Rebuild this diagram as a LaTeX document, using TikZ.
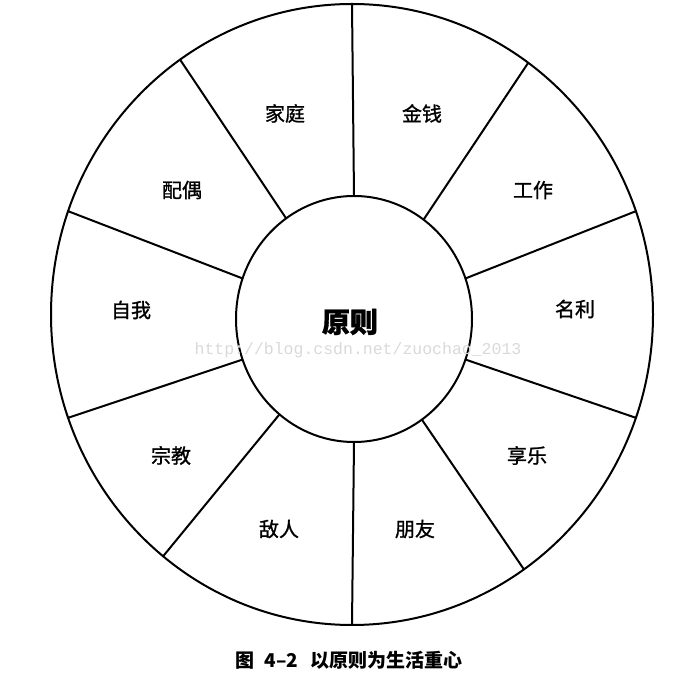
\documentclass[tikz,border=0pt]{standalone}
\usepackage{fontspec}
\setmainfont{Noto Sans CJK SC}
\newfontfamily\labelfont[FakeBold=1.2]{Noto Sans CJK SC}
\newfontfamily\markfont{Liberation Mono}
\usetikzlibrary{shapes.geometric}

\begin{document}
\begin{tikzpicture}[
x=1pt, y=1pt,
every node/.style={
font=\labelfont\fontsize{20}{24}\selectfont
},
ring/.style={
draw,
ellipse,
line width=2pt,
inner sep=0pt,
outer sep=0pt
},
spoke/.style={line width=2pt}
]
\useasboundingbox (0,0) rectangle (699,683);

\node[ring, minimum width=602pt, minimum height=621pt] (rim) at (352,368.5) {};
\node[ring, minimum width=236pt, minimum height=246pt] (hub) at (354,364) {};

\draw[spoke] (hub.90) -- (rim.90);
\draw[spoke] (hub.55) -- (rim.55);
\draw[spoke] (hub.20) -- (rim.20);
\draw[spoke] (hub.-20) -- (rim.-20);
\draw[spoke] (hub.-56) -- (rim.-56);
\draw[spoke] (hub.-90) -- (rim.-90);
\draw[spoke] (hub.-128) -- (rim.-128);
\draw[spoke] (hub.-160) -- (rim.-160);
\draw[spoke] (hub.160) -- (rim.160);
\draw[spoke] (hub.124) -- (rim.124);

\node (core) at (350,361) {\fontsize{28}{32}\selectfont\bfseries 原则};

\node (family) at (285,569.5) {家庭};
\node (money) at (422,569.5) {金钱};
\node (work) at (533,493) {工作};
\node (fame) at (575,374) {名利};
\node (pleasure) at (527,227.5) {享乐};
\node (friend) at (415,154) {朋友};
\node (enemy) at (279,154) {敌人};
\node (church) at (171,227.5) {宗教};
\node (self) at (131,373) {自我};
\node (spouse) at (182,493) {配偶};

\node[text=gray!30] (mark) at (358,333) {\markfont\fontsize{16.5}{18}\selectfont http://blog.csdn.net/zuochao\_2013};

\node (caption) at (349,23) {\normalfont\fontsize{19}{22}\selectfont\bfseries 图\hspace{10pt}4–2\hspace{12pt}以原则为生活重心};

\end{tikzpicture}
\end{document}
